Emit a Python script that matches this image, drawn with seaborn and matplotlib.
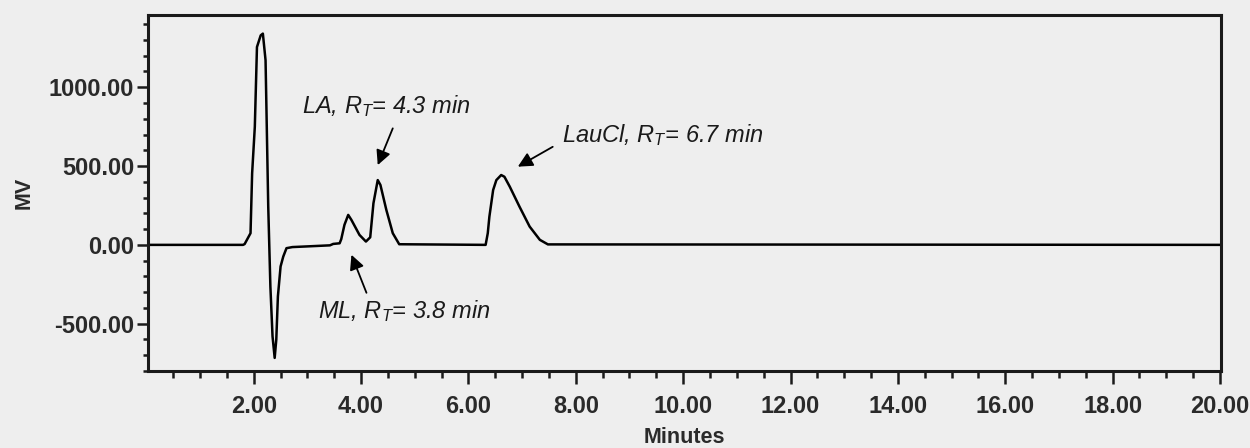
import numpy as np
import pandas as pd
import matplotlib
matplotlib.use('Agg')
import matplotlib.pyplot as plt
from matplotlib.ticker import MultipleLocator, FormatStrFormatter
import seaborn as sns

#%% Chromatogram trace (minutes, mV)
time_min = [0.03, 1.80, 1.83, 1.94, 1.97, 2.02, 2.06, 2.13, 2.17, 2.22, 2.27, 2.31,
            2.35, 2.39, 2.42, 2.45, 2.50, 2.55, 2.61, 2.72, 2.98, 3.42, 3.48, 3.60,
            3.63, 3.69, 3.76, 3.82, 3.97, 4.09, 4.17, 4.23, 4.31, 4.36, 4.47, 4.59,
            4.71, 6.32, 6.36, 6.39, 6.46, 6.52, 6.61, 6.67, 6.77, 6.95, 7.14, 7.33,
            7.48, 20.0]
signal_mv = [0, 0, 5, 74, 454, 749, 1255, 1329, 1340, 1171, 243, -264,
             -580, -717, -601, -327, -137, -74, -21, -14, -10, -3, 6, 10,
             36, 127, 190, 158, 63, 21, 48, 264, 411, 380, 222, 74,
             4, 0, 74, 179, 348, 411, 443, 432, 369, 243, 116, 32,
             3, 0]

peak_labels = ['LA, $R_T$= 4.3 min', 'LauCl, $R_T$= 6.7 min', 'ML, $R_T$= 3.8 min']
label_xy = [(2.89, 835), (7.75, 654), (3.19, -462)]
arrow_tail = [(4.59, 739), (7.57, 622), (4.10, -304)]
arrow_head = [(4.31, 506), (6.92, 496), (3.82, -63)]

df = pd.DataFrame({'Minutes': time_min, 'MV': signal_mv})

#%% Plot
sns.set_style('ticks')
plt.rcParams['font.family'] = ['Liberation Sans', 'DejaVu Sans']
plt.rcParams['mathtext.fontset'] = 'custom'
plt.rcParams['mathtext.it'] = 'Liberation Sans:italic'
plt.rcParams['mathtext.rm'] = 'Liberation Sans:italic'

bg = '#eeeeee'
fig = plt.figure(figsize=(12.5, 4.48), dpi=100, facecolor=bg)
ax = fig.add_axes([0.1184, 0.1719, 0.8584, 0.7946])
ax.set_facecolor(bg)

sns.lineplot(data=df, x='Minutes', y='MV', color='black', linewidth=1.8, ax=ax)

ax.set_xlim(0.03, 20.02)
ax.set_ylim(-800, 1458)
ax.xaxis.set_major_locator(MultipleLocator(2))
ax.xaxis.set_minor_locator(MultipleLocator(0.5))
ax.yaxis.set_major_locator(MultipleLocator(500))
ax.yaxis.set_minor_locator(MultipleLocator(100))
ax.xaxis.set_major_formatter(FormatStrFormatter('%.2f'))
ax.yaxis.set_major_formatter(FormatStrFormatter('%.2f'))
ax.set_xticks([2, 4, 6, 8, 10, 12, 14, 16, 18, 20])

for s in ax.spines.values():
    s.set_linewidth(2.2)
    s.set_color('#1a1a1a')
ax.tick_params(which='both', width=1.8, color='#1a1a1a')
ax.tick_params(axis='x', which='major', length=9, labelsize=17, labelcolor='#2a2a2a', pad=8)
ax.tick_params(axis='x', which='minor', length=5)
ax.tick_params(axis='y', which='major', length=8, labelsize=17, labelcolor='#2a2a2a', pad=2)
ax.tick_params(axis='y', which='minor', length=3.5)
for t in ax.get_xticklabels() + ax.get_yticklabels():
    t.set_fontweight('bold')

ax.set_xlabel('Minutes', fontsize=15.5, fontweight='bold', color='#2a2a2a', labelpad=7)
ax.set_ylabel('MV', fontsize=15.5, fontweight='bold', color='#2a2a2a', labelpad=10)

for lab, xy, tail, head in zip(peak_labels, label_xy, arrow_tail, arrow_head):
    ax.text(xy[0], xy[1], lab, fontsize=17, style='italic', color='#1a1a1a')
    ax.annotate('', xy=head, xytext=tail,
                arrowprops=dict(arrowstyle='-|>', color='black', lw=1.3,
                                mutation_scale=22, shrinkA=0, shrinkB=0))

plt.savefig('out.png', dpi=100, facecolor=bg)
